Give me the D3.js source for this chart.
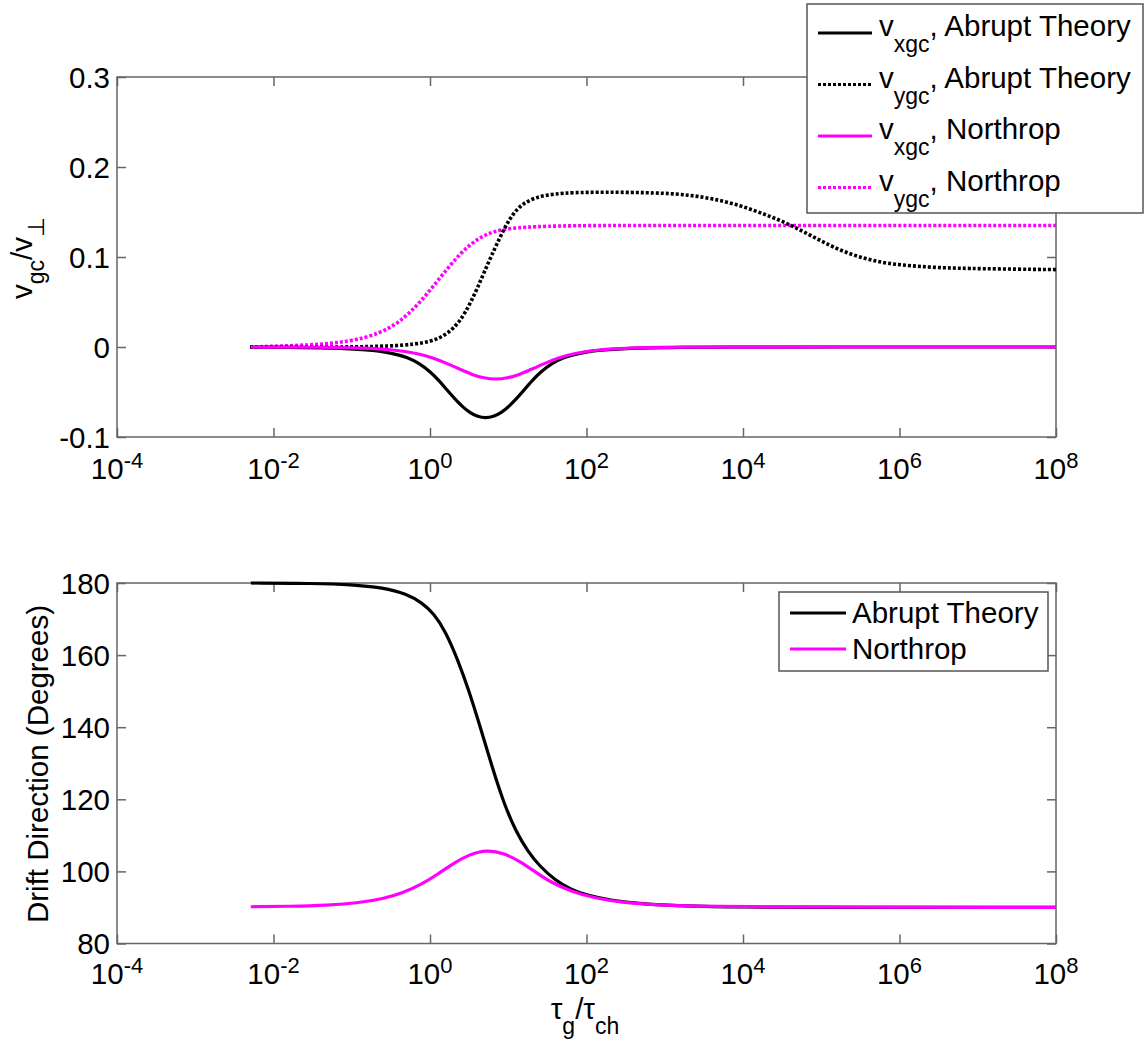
<!DOCTYPE html>
<html><head><meta charset="utf-8">
<script src="https://cdn.jsdelivr.net/npm/d3@7"></script>
<style>body{margin:0;background:#fff}svg{display:block}text{font-family:"Liberation Sans",Arial,Helvetica,sans-serif;fill:#000}</style>
</head><body>
<svg id="c" width="1146" height="1043"></svg>
<script>
// ---- data (x given as log10(tau_g/tau_ch)) ----
const xTickExps = [-4,-2,0,2,4,6,8];
const yTopTicks = [-0.1,0,0.1,0.2,0.3];
const yTopTickLabels = ["-0.1","0","0.1","0.2","0.3"];
const yBotTicks = [80,100,120,140,160,180];

const vxAbruptX = [-2.29,-1.79,-1.29,-0.79,-0.49,-0.29,-0.14,0.01,0.11,0.21,0.31,0.41,0.51,0.61,0.71,0.81,0.91,1.01,1.11,1.21,1.31,1.41,1.56,1.71,1.91,2.21,2.71,3.21,3.71,5,8];
const vxAbruptY = [0,-0.0003,-0.001,-0.003,-0.0065,-0.0115,-0.018,-0.028,-0.037,-0.047,-0.057,-0.066,-0.073,-0.0775,-0.079,-0.0775,-0.073,-0.066,-0.057,-0.047,-0.037,-0.028,-0.018,-0.0115,-0.0065,-0.003,-0.001,-0.0003,0,0,0];

const vxNorthX = [-2.29,-1.36,-0.86,-0.46,-0.16,0.04,0.21,0.39,0.54,0.69,0.84,0.99,1.14,1.29,1.47,1.64,1.84,2.14,2.54,3.04,5,8];
const vxNorthY = [0,-0.0002,-0.001,-0.003,-0.007,-0.012,-0.018,-0.025,-0.0308,-0.0346,-0.036,-0.0346,-0.0308,-0.025,-0.018,-0.012,-0.007,-0.003,-0.001,0,0,0];

const vyAbruptX = [-2.3,-1.5,-1,-0.5,-0.2,0,0.15,0.3,0.45,0.6,0.75,0.9,1.0,1.1,1.2,1.35,1.5,1.7,2.0,2.5,3.0,3.3,3.6,3.9,4.2,4.5,4.8,5.1,5.4,5.7,6.0,6.5,7,8];
const vyAbruptY = [0,0,0,0.001,0.003,0.006,0.011,0.020,0.037,0.064,0.095,0.123,0.140,0.152,0.160,0.166,0.169,0.171,0.172,0.172,0.171,0.169,0.165,0.159,0.150,0.140,0.127,0.113,0.102,0.095,0.091,0.088,0.087,0.086];

const vyNorthX = [-2.3,-1.5,-1.02,-0.64,-0.38,-0.13,0.13,0.38,0.64,0.9,1.32,2,3,8];
const vyNorthY = [0,0.002,0.006,0.015,0.028,0.049,0.077,0.104,0.123,0.131,0.134,0.135,0.135,0.135];

const dirAbruptX = [-2.29,-1.5,-1.0,-0.6,-0.3,-0.1,0.05,0.2,0.35,0.5,0.65,0.8,0.95,1.1,1.25,1.4,1.6,1.8,2.0,2.3,2.7,3.2,4,5,8];
const dirAbruptY = [180,179.9,179.6,178.7,177,174.5,171.5,166.5,159,150,139.5,128.5,118.5,111,105.5,101.5,97.5,95,93.4,92,91,90.4,90.1,90,90];

const dirNorthX = [-2.29,-1.8,-1.3,-0.9,-0.6,-0.35,-0.1,0.1,0.3,0.5,0.73,0.95,1.15,1.35,1.55,1.8,2.1,2.5,3,4,8];
const dirNorthY = [90.2,90.3,90.6,91.3,92.4,94,96.5,99.2,102.3,104.7,106,105,102.8,99.8,96.9,94.5,92.6,91.2,90.5,90.1,90];

// ---- drawing ----
const svg = d3.select("#c");
const FS = 29.5, SUB = 23;
const AX = "#666";
const x = d3.scaleLog().domain([1e-4,1e8]).range([117,1056]);
const yT = d3.scaleLinear().domain([-0.1,0.3]).range([437,77]);
const yB = d3.scaleLinear().domain([80,180]).range([943.5,583]);

function zip(xs, ys){ return xs.map((d,i)=>[Math.pow(10,d), ys[i]]); }

function panel(y, yTicks, yLabels, labelBase){
  const g = svg.append("g");
  const [y0,y1] = y.range();
  const [x0,x1] = x.range();
  const xt = xTickExps.map(e=>Math.pow(10,e));
  g.append("g").attr("transform",`translate(0,${y0})`)
    .call(d3.axisBottom(x).tickValues(xt).tickSizeInner(-9).tickSizeOuter(0).tickFormat(""));
  g.append("g").attr("transform",`translate(0,${y1})`)
    .call(d3.axisTop(x).tickValues(xt).tickSizeInner(-9).tickSizeOuter(0).tickFormat(""));
  g.append("g").attr("transform",`translate(${x0},0)`)
    .call(d3.axisLeft(y).tickValues(yTicks).tickSizeInner(-9).tickSizeOuter(0).tickFormat(""));
  g.append("g").attr("transform",`translate(${x1},0)`)
    .call(d3.axisRight(y).tickValues(yTicks).tickSizeInner(-9).tickSizeOuter(0).tickFormat(""));
  g.selectAll(".domain").remove();
  g.selectAll(".tick line").attr("stroke",AX).attr("stroke-width",1.5);
  g.append("rect").attr("x",x0).attr("y",y1).attr("width",x1-x0).attr("height",y0-y1)
    .attr("fill","none").attr("stroke",AX).attr("stroke-width",1.5);
  yTicks.forEach((t,i)=>{
    g.append("text").attr("x",x0-7).attr("y",y(t)+10.5).attr("text-anchor","end")
      .attr("font-size",FS).text(yLabels[i]);
  });
  xTickExps.forEach(e=>{
    const t = g.append("text").attr("x",x(Math.pow(10,e))).attr("y",labelBase).attr("text-anchor","middle").attr("font-size",FS);
    t.append("tspan").text("10");
    t.append("tspan").attr("font-size",22).attr("dy",-11).text(String(e));
  });
  return g;
}

const gT = panel(yT, yTopTicks, yTopTickLabels, 479);
const gB = panel(yB, yBotTicks, yBotTicks.map(String), 984);

function drawLine(g, y, xs, ys, color, dashed){
  const line = d3.line().x(d=>x(d[0])).y(d=>y(d[1])).curve(d3.curveBasis);
  g.append("path").datum(zip(xs,ys)).attr("d",line).attr("fill","none")
    .attr("stroke",color).attr("stroke-width",dashed?3.6:3.2)
    .attr("stroke-dasharray",dashed?"3,2":null).attr("stroke-linejoin","round");
}
const MAG = "#ff00ff";
drawLine(gT, yT, vyNorthX, vyNorthY, MAG, true);
drawLine(gT, yT, vyAbruptX, vyAbruptY, "#000", true);
drawLine(gT, yT, vxAbruptX, vxAbruptY, "#000", false);
drawLine(gT, yT, vxNorthX, vxNorthY, MAG, false);
drawLine(gB, yB, dirAbruptX, dirAbruptY, "#000", false);
drawLine(gB, yB, dirNorthX, dirNorthY, MAG, false);

// axis labels
const yl1 = svg.append("text").attr("transform","translate(32,258) rotate(-90)").attr("text-anchor","middle").attr("font-size",FS);
yl1.append("tspan").text("v");
yl1.append("tspan").attr("font-size",SUB).attr("dy",12).text("gc");
yl1.append("tspan").attr("dy",-12).text("/v");
yl1.append("tspan").attr("font-size",SUB).attr("dy",12).text("⊥");

svg.append("text").attr("transform","translate(48,764) rotate(-90)").attr("text-anchor","middle")
  .attr("font-size",FS).text("Drift Direction (Degrees)");

const xl = svg.append("text").attr("x",585).attr("y",1019).attr("text-anchor","middle").attr("font-size",FS);
xl.append("tspan").text("τ");
xl.append("tspan").attr("font-size",SUB).attr("dy",15).text("g");
xl.append("tspan").attr("dy",-15).text("/τ");
xl.append("tspan").attr("font-size",SUB).attr("dy",15).text("ch");

// legends
const legTopSeries = ["xgc","ygc","xgc","ygc"];
const legTopNames = ["Abrupt Theory","Abrupt Theory","Northrop","Northrop"];
const legTopColors = ["#000","#000",MAG,MAG];
const legTopDashed = [false,true,false,true];

const lt = svg.append("g");
lt.append("rect").attr("x",807).attr("y",4).attr("width",336).attr("height",209)
  .attr("fill","#fff").attr("stroke","#555").attr("stroke-width",1.5);
legTopNames.forEach((n,i)=>{
  const yy = 33 + i*51.5;
  lt.append("line").attr("x1",818).attr("x2",872).attr("y1",yy).attr("y2",yy)
    .attr("stroke",legTopColors[i]).attr("stroke-width",legTopDashed[i]?3:3.2)
    .attr("stroke-dasharray",legTopDashed[i]?"3,2":null);
  const t = lt.append("text").attr("x",879).attr("y",yy+3).attr("font-size",FS);
  t.append("tspan").text("v");
  t.append("tspan").attr("font-size",SUB).attr("dy",16).text(legTopSeries[i]);
  t.append("tspan").attr("dy",-16).text(", " + n);
});

const legBotNames = ["Abrupt Theory","Northrop"];
const legBotColors = ["#000",MAG];
const lb = svg.append("g");
lb.append("rect").attr("x",779).attr("y",592).attr("width",269).attr("height",79)
  .attr("fill","#fff").attr("stroke","#555").attr("stroke-width",1.5);
legBotNames.forEach((n,i)=>{
  const yy = 613 + i*36;
  lb.append("line").attr("x1",790).attr("x2",846).attr("y1",yy).attr("y2",yy)
    .attr("stroke",legBotColors[i]).attr("stroke-width",3.2);
  lb.append("text").attr("x",852).attr("y",yy+10).attr("font-size",FS).text(n);
});
</script>
</body></html>
